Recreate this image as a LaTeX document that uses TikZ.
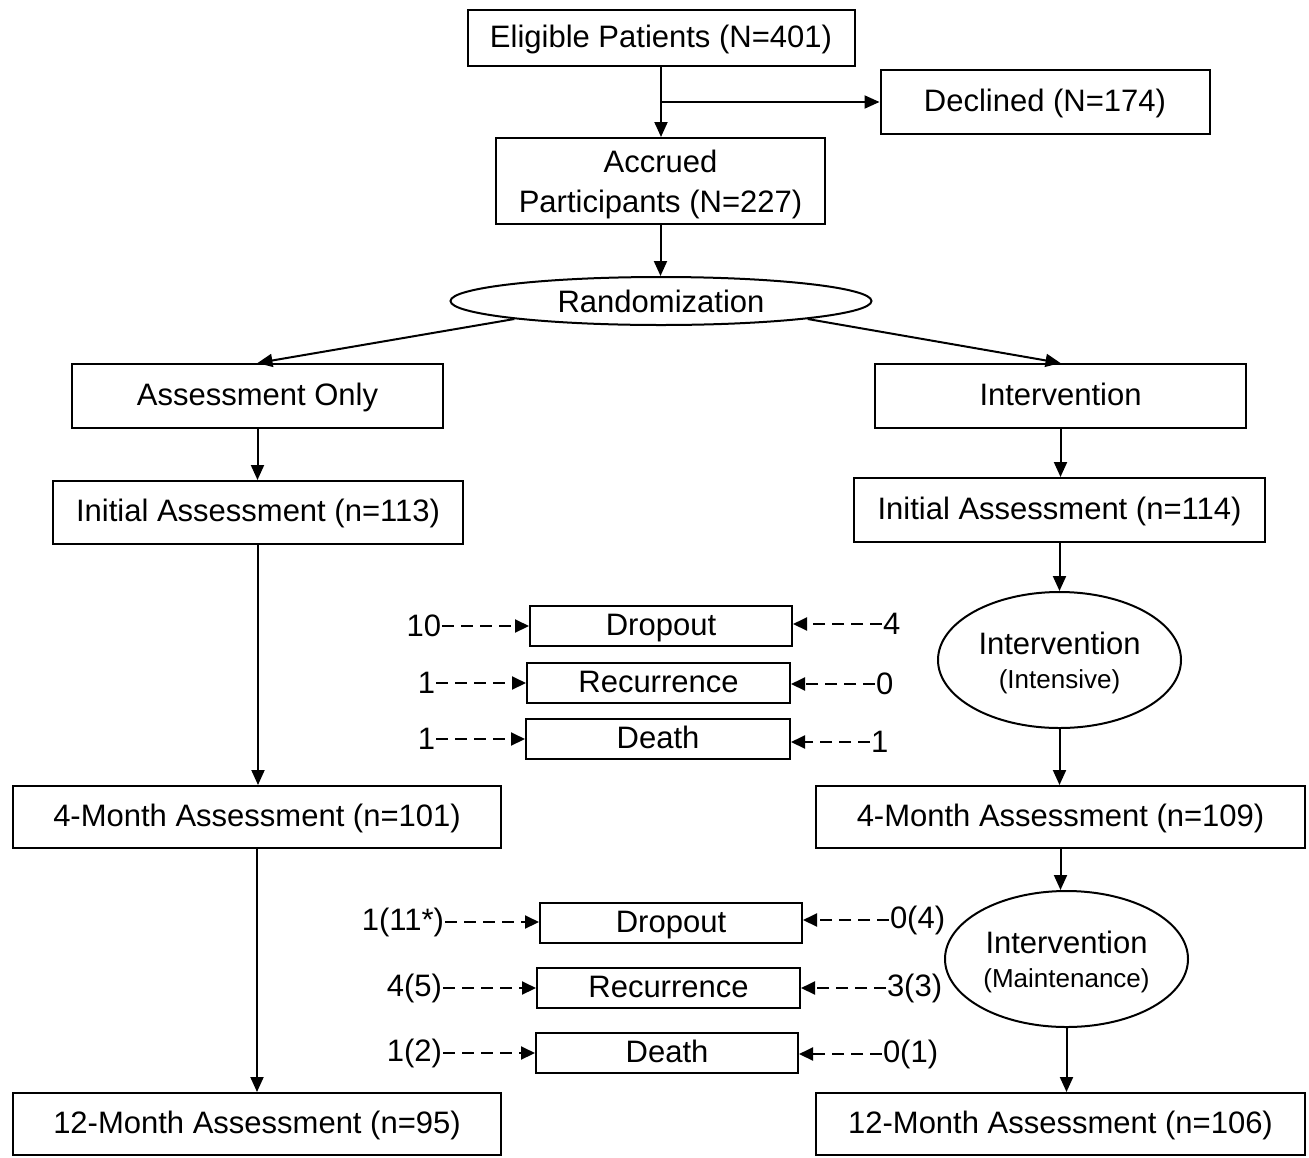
\documentclass[tikz,border=0pt]{standalone}
\usepackage{fontspec}
\setmainfont{Liberation Sans}
\usetikzlibrary{shapes.geometric,arrows.meta}

\begin{document}
\begin{tikzpicture}[x=1pt, y=-1pt, line width=2pt,
  box/.style={draw, rectangle, inner sep=0pt, align=center, font=\fontsize{31}{40}\selectfont},
  single/.style={text height=24.5pt, text depth=6.5pt},
  oval/.style={draw, ellipse, inner sep=0pt, align=center, font=\fontsize{31}{34}\selectfont},
  count/.style={inner sep=0pt, font=\fontsize{31}{36}\selectfont},
  arr/.style={-{Triangle[length=15pt,width=13pt]}},
  darr/.style={-{Triangle[length=14pt,width=13pt]}, dash pattern=on 12pt off 7pt}]
  \useasboundingbox (0,0) rectangle (1309,1157);

  % enrolment
  \node[box, single, minimum width=387pt, minimum height=56pt] (elig) at (661,38) {Eligible Patients (N=401)};
  \node[box, single, minimum width=329pt, minimum height=64pt] (decl) at (1045,102) {Declined (N=174)};
  \node[box, text depth=0pt, minimum width=329pt, minimum height=86pt] (accr) at (660.5,181) {Accrued\\Participants (N=227)};
  \node[oval, minimum width=421pt, minimum height=48pt] (rand) at (661,301) {Randomization};

  % two arms
  \node[box, single, minimum width=371pt, minimum height=64pt] (asmt) at (257.5,396) {Assessment Only};
  \node[box, single, minimum width=371pt, minimum height=64pt] (intv) at (1060.5,396) {Intervention};
  \node[box, single, minimum width=410pt, minimum height=63pt] (init1) at (258,512.5) {Initial Assessment (n=113)};
  \node[box, single, minimum width=411pt, minimum height=64pt] (init2) at (1059.5,510) {Initial Assessment (n=114)};
  \node[oval, text depth=0pt, minimum width=243pt, minimum height=136pt] (intens) at (1059.5,660)
    {Intervention\\{\fontsize{26}{30}\selectfont (Intensive)}};
  \node[box, single, minimum width=488pt, minimum height=62pt] (mfour1) at (257,817) {4-Month Assessment (n=101)};
  \node[box, single, minimum width=489pt, minimum height=62pt] (mfour2) at (1060.5,817) {4-Month Assessment (n=109)};
  \node[oval, text depth=0pt, minimum width=243pt, minimum height=136pt] (maint) at (1066.5,959)
    {Intervention\\{\fontsize{26}{30}\selectfont (Maintenance)}};
  \node[box, single, minimum width=488pt, minimum height=62pt] (mtwelve1) at (257,1124) {12-Month Assessment (n=95)};
  \node[box, single, minimum width=489pt, minimum height=62pt] (mtwelve2) at (1060.5,1124) {12-Month Assessment (n=106)};

  % losses up to 4 months
  \node[box, single, minimum width=262pt, minimum height=40pt] (drop1) at (661,626) {Dropout};
  \node[box, single, minimum width=263pt, minimum height=40pt] (rec1) at (658.5,683) {Recurrence};
  \node[box, single, minimum width=264pt, minimum height=40pt] (death1) at (658,739) {Death};
  \node[count, anchor=east] (dropA1) at (442,626) {10};
  \node[count, anchor=east] (recA1) at (436,683) {1};
  \node[count, anchor=east] (deathA1) at (436,739) {1};
  \node[count, anchor=west] (dropI1) at (882,624) {4};
  \node[count, anchor=west] (recI1) at (875,684) {0};
  \node[count, anchor=west] (deathI1) at (870,742) {1};

  % losses up to 12 months
  \node[box, single, minimum width=262pt, minimum height=40pt] (drop2) at (671,923) {Dropout};
  \node[box, single, minimum width=263pt, minimum height=40pt] (rec2) at (668.5,988) {Recurrence};
  \node[box, single, minimum width=262pt, minimum height=40pt] (death2) at (667,1053) {Death};
  \node[count, anchor=east] (dropA2) at (445,922) {1(11*)};
  \node[count, anchor=east] (recA2) at (443,988) {4(5)};
  \node[count, anchor=east] (deathA2) at (443,1053) {1(2)};
  \node[count, anchor=west] (dropI2) at (889,920) {0(4)};
  \node[count, anchor=west] (recI2) at (886,988) {3(3)};
  \node[count, anchor=west] (deathI2) at (882,1054) {0(1)};

  \draw[arr] (elig.south) -- (elig.south |- accr.north);
  \draw[arr] (elig.south |- decl.west) -- (decl.west);
  \draw[arr] (accr.south) -- (accr.south |- rand.north);
  \draw[arr] (rand.187) -- (asmt.north);
  \draw[arr] (rand.353) -- (intv.north);

  \draw[arr] (asmt.south) -- (asmt.south |- init1.north);
  \draw[arr] (init1.south) -- (init1.south |- mfour1.north);
  \draw[arr] (mfour1.south) -- (mfour1.south |- mtwelve1.north);

  \draw[arr] (intv.south) -- (intv.south |- init2.north);
  \draw[arr] (init2.south) -- (init2.south |- intens.north);
  \draw[arr] (intens.south) -- (intens.south |- mfour2.north);
  \draw[arr] (mfour2.south) -- (mfour2.south |- maint.north);
  \draw[arr] (maint.south) -- (maint.south |- mtwelve2.north);

  \draw[darr] (dropA1.east) -- (dropA1.east -| drop1.west);
  \draw[darr] (recA1.east) -- (recA1.east -| rec1.west);
  \draw[darr] (deathA1.east) -- (deathA1.east -| death1.west);
  \draw[darr] (dropI1.west) -- (dropI1.west -| drop1.east);
  \draw[darr] (recI1.west) -- (recI1.west -| rec1.east);
  \draw[darr] (deathI1.west) -- (deathI1.west -| death1.east);

  \draw[darr] (dropA2.east) -- (dropA2.east -| drop2.west);
  \draw[darr] (recA2.east) -- (recA2.east -| rec2.west);
  \draw[darr] (deathA2.east) -- (deathA2.east -| death2.west);
  \draw[darr] (dropI2.west) -- (dropI2.west -| drop2.east);
  \draw[darr] (recI2.west) -- (recI2.west -| rec2.east);
  \draw[darr] (deathI2.west) -- (deathI2.west -| death2.east);
\end{tikzpicture}
\end{document}
